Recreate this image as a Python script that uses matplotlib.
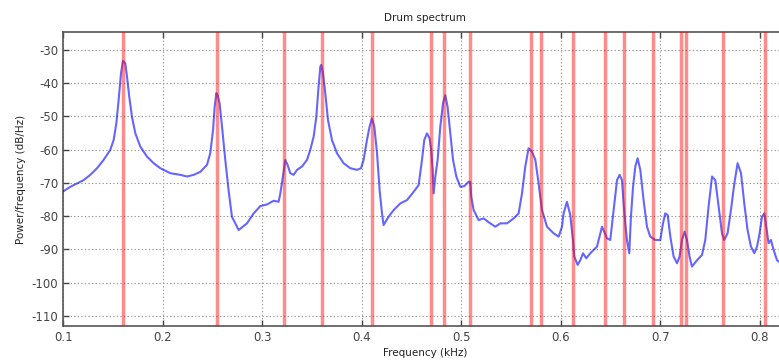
import matplotlib
matplotlib.use("Agg")
import matplotlib.pyplot as plt

# Spectrum trace (frequency in kHz, power in dB/Hz)
freq_khz = [0.1003, 0.1070, 0.1138, 0.1204, 0.1271, 0.1339, 0.1405, 0.1472, 0.1506, 0.1533,
            0.1556, 0.1580, 0.1600, 0.1623, 0.1640, 0.1663, 0.1690, 0.1724, 0.1774, 0.1841,
            0.1908, 0.1975, 0.2075, 0.2176, 0.2243, 0.2310, 0.2377, 0.2444, 0.2477, 0.2505,
            0.2521, 0.2538, 0.2551, 0.2571, 0.2595, 0.2628, 0.2661, 0.2695, 0.2762, 0.2846,
            0.2913, 0.2980, 0.3047, 0.3114, 0.3164, 0.3181, 0.3208, 0.3231, 0.3254, 0.3281,
            0.3315, 0.3349, 0.3399, 0.3449, 0.3482, 0.3516, 0.3543, 0.3563, 0.3583, 0.3593,
            0.3610, 0.3633, 0.3660, 0.3700, 0.3751, 0.3817, 0.3884, 0.3952, 0.3992, 0.4018,
            0.4052, 0.4078, 0.4102, 0.4126, 0.4153, 0.4179, 0.4203, 0.4219, 0.4269, 0.4320,
            0.4387, 0.4454, 0.4521, 0.4571, 0.4605, 0.4628, 0.4655, 0.4681, 0.4698, 0.4712,
            0.4722, 0.4739, 0.4762, 0.4789, 0.4816, 0.4839, 0.4862, 0.4889, 0.4917, 0.4950,
            0.4990, 0.5030, 0.5073, 0.5090, 0.5100, 0.5124, 0.5174, 0.5224, 0.5291, 0.5342,
            0.5392, 0.5459, 0.5526, 0.5576, 0.5610, 0.5643, 0.5676, 0.5710, 0.5744, 0.5777,
            0.5811, 0.5861, 0.5928, 0.5978, 0.6012, 0.6028, 0.6062, 0.6095, 0.6122, 0.6136,
            0.6169, 0.6196, 0.6223, 0.6256, 0.6296, 0.6330, 0.6364, 0.6397, 0.6414, 0.6437,
            0.6464, 0.6497, 0.6531, 0.6565, 0.6591, 0.6615, 0.6631, 0.6651, 0.6665, 0.6688,
            0.6705, 0.6726, 0.6749, 0.6772, 0.6799, 0.6832, 0.6866, 0.6899, 0.6950, 0.7000,
            0.7027, 0.7050, 0.7074, 0.7101, 0.7134, 0.7168, 0.7194, 0.7218, 0.7244, 0.7268,
            0.7294, 0.7318, 0.7369, 0.7419, 0.7452, 0.7485, 0.7520, 0.7553, 0.7586, 0.7620,
            0.7643, 0.7676, 0.7710, 0.7744, 0.7777, 0.7811, 0.7844, 0.7877, 0.7911, 0.7945,
            0.7972, 0.7998, 0.8022, 0.8045, 0.8065, 0.8088, 0.8112, 0.8139, 0.8173, 0.8196]
power_db = [-72.5, -71.2, -70.2, -69.2, -67.6, -65.6, -63.1, -60.1, -57.1, -52.1,
            -45.1, -37.0, -33.3, -34.0, -38.0, -44.1, -50.1, -55.1, -59.1, -62.1,
            -64.1, -65.6, -67.1, -67.6, -68.1, -67.6, -66.7, -64.6, -61.1, -54.1,
            -47.1, -43.0, -43.6, -46.1, -53.1, -63.1, -72.2, -80.2, -84.2, -82.2,
            -79.2, -77.0, -76.5, -75.4, -75.7, -73.2, -68.0, -63.1, -64.6, -67.1,
            -67.6, -66.1, -65.1, -63.1, -60.1, -56.1, -50.1, -42.0, -35.0, -34.5,
            -37.0, -43.0, -51.1, -57.1, -61.1, -64.1, -65.6, -66.1, -65.6, -63.1,
            -57.1, -53.1, -50.6, -53.1, -61.1, -72.2, -79.2, -82.7, -80.2, -78.2,
            -76.2, -75.2, -72.7, -70.7, -63.1, -57.1, -55.1, -56.6, -60.1, -66.1,
            -73.2, -68.1, -63.1, -53.1, -46.1, -43.6, -47.1, -55.1, -63.1, -68.1,
            -71.2, -71.0, -69.7, -69.7, -74.2, -78.2, -81.2, -80.7, -82.2, -83.2,
            -82.2, -82.2, -80.7, -79.2, -73.2, -65.1, -59.6, -60.6, -63.1, -70.2,
            -78.2, -83.2, -85.2, -86.2, -83.2, -79.2, -75.7, -79.7, -87.2, -92.2,
            -94.7, -93.3, -91.2, -92.7, -91.2, -90.2, -89.2, -85.2, -83.2, -84.7,
            -86.7, -87.2, -78.2, -69.2, -67.6, -69.2, -76.2, -83.2, -87.2, -91.2,
            -80.2, -71.2, -65.1, -62.6, -66.1, -75.2, -83.2, -86.2, -87.2, -87.2,
            -82.2, -79.2, -79.7, -86.2, -92.2, -94.2, -92.2, -87.2, -84.7, -87.2,
            -92.2, -95.2, -93.3, -91.7, -87.2, -77.2, -68.1, -69.2, -77.2, -85.2,
            -87.2, -85.2, -78.2, -70.2, -64.1, -67.1, -76.2, -84.2, -89.2, -91.2,
            -89.2, -85.2, -80.2, -79.2, -83.2, -88.2, -87.2, -90.2, -93.3, -93.8]

# Detected peak markers (kHz)
peak_khz = [0.1603, 0.2548, 0.3221, 0.3603, 0.4106, 0.4698, 0.4829, 0.5090, 0.5700,
            0.5800, 0.6126, 0.6447, 0.6638, 0.6930, 0.7210, 0.7260, 0.7633, 0.8055]

x_ticks = [0.1, 0.2, 0.3, 0.4, 0.5, 0.6, 0.7, 0.8]
y_ticks = [-30, -40, -50, -60, -70, -80, -90, -100, -110]

fig = plt.figure(figsize=(7.79, 3.62), dpi=100)
ax = fig.add_axes([63.3 / 779, 1 - 325.7 / 362, 1.01 - 63.3 / 779, (325.7 - 32.3) / 362])

ax.plot(freq_khz, power_db, color="blue", alpha=0.6, lw=1.5, zorder=3)
for p in peak_khz:
    ax.axvline(p, color="red", alpha=0.45, lw=2.5, zorder=4)

ax.set_xlim(0.1, 0.1 + (779 * 1.01 - 63.3) / 995)
ax.set_ylim(-113, -24.7)
ax.set_xticks(x_ticks)
ax.set_xticklabels([f"{t:g}" for t in x_ticks])
ax.set_yticks(y_ticks)
ax.set_yticklabels([f"{t:g}" for t in y_ticks])
ax.grid(True, linestyle=(0, (1.2, 2.0)), color="#999999", lw=0.8)
ax.tick_params(direction="in", top=True, right=True, labelsize=8.5, colors="#444444",
               length=4, width=1)
for s in ax.spines.values():
    s.set_color("#555555")
    s.set_linewidth(1.2)

ax.set_title("Drum spectrum", fontsize=7.5, pad=8, color="#222222")
ax.set_xlabel("Frequency (kHz)", fontsize=7.5, labelpad=3, color="#222222")
ax.set_ylabel("Power/frequency (dB/Hz)", fontsize=7.5, labelpad=4, color="#222222")

fig.savefig("out.png", dpi=100)
